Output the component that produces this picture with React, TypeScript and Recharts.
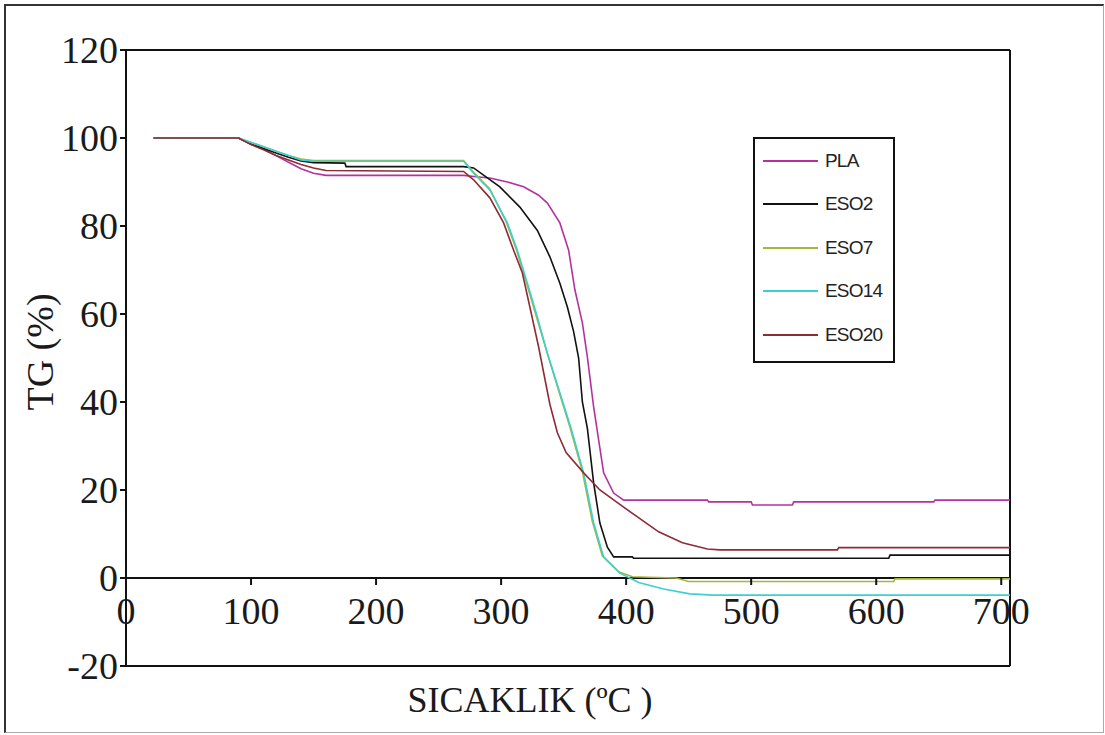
import { Legend, Line, LineChart, ReferenceLine, XAxis, YAxis } from 'recharts'

// TG curves, [temperature °C, TG %]
const PLA: [number, number][] = [
  [22, 100], [90, 100], [100, 98.8], [110, 97.5], [120, 96], [130, 94.5], [140, 93], [150, 92],
  [160, 91.5], [270, 91.5], [280, 91.2], [291, 90.9], [305, 90], [318, 88.9], [330, 87],
  [337, 85.2], [347, 80.7], [354, 74.5], [359, 65.5], [365, 58], [369, 50.2], [374, 38.9],
  [382, 23.9], [390, 19.3], [398, 17.7], [465, 17.7], [466, 17.3], [500, 17.3], [501, 16.6],
  [533, 16.6], [534, 17.3], [646, 17.3], [647, 17.7], [707, 17.7],
]
const ESO2: [number, number][] = [
  [22, 100], [90, 100], [100, 98.6], [110, 97.6], [120, 96.6], [130, 95.6], [140, 94.8], [150, 94.4],
  [175, 94.3], [176, 93.5], [270, 93.5], [278, 93.2], [299, 88.9], [315, 84.3], [329, 79],
  [339, 73], [347, 67], [353, 61.6], [358, 56], [362, 50], [365, 40], [369, 34], [374, 21.6],
  [379, 12.5], [385, 7], [390, 4.8], [405, 4.8], [406, 4.5], [610, 4.5], [611, 5.2], [707, 5.2],
]
const ESO7: [number, number][] = [
  [22, 100], [90, 100], [100, 99], [110, 98], [120, 97], [130, 96], [140, 95.2], [150, 94.9],
  [270, 94.9], [278, 92.2], [291, 88.4], [304, 81], [312, 74.8], [320, 67.3], [328, 59.6],
  [336, 52], [345, 43.5], [355, 34.3], [365, 24.2], [373, 12.8], [381, 5], [394, 1.4], [405, 0.3],
  [440, 0], [450, -0.8], [614, -0.8], [615, -0.2], [707, -0.2],
]
const ESO14: [number, number][] = [
  [22, 100], [90, 100], [100, 99], [110, 98], [120, 97], [130, 96], [140, 95], [150, 94.7],
  [270, 94.7], [278, 92], [291, 88.2], [305, 80.7], [313, 74.5], [321, 67], [329, 59.3],
  [337, 51], [346, 43], [356, 34], [366, 23.9], [374, 12.5], [382, 4.8], [395, 1.1], [410, -1],
  [430, -2.5], [451, -3.6], [470, -3.9], [707, -3.9],
]
const ESO20: [number, number][] = [
  [22, 100], [90, 100], [100, 98.5], [110, 97.3], [120, 96], [130, 95], [140, 94], [150, 93.2],
  [160, 92.6], [270, 92.4], [278, 90.5], [291, 86.4], [302, 80.7], [310, 74.5], [317, 69.3],
  [323, 61.6], [330, 52.5], [339, 39.5], [345, 33], [352, 28.5], [366, 23.9], [379, 20], [398, 16.1],
  [426, 10.5], [445, 8], [465, 6.6], [475, 6.4], [569, 6.4], [570, 6.9], [707, 6.9],
]

const SERIES = [
  { name: 'PLA', color: '#b4329f', points: PLA },
  { name: 'ESO2', color: '#111111', points: ESO2 },
  { name: 'ESO7', color: '#a6b63c', points: ESO7 },
  { name: 'ESO14', color: '#3ccfd2', points: ESO14 },
  { name: 'ESO20', color: '#8e2b35', points: ESO20 },
]

const TEMP_TICKS = [0, 100, 200, 300, 400, 500, 600, 700]
const TG_TICKS = [-20, 0, 20, 40, 60, 80, 100, 120]
const TEMP_MAX = 707
const TG_MIN = -20
const TG_MAX = 120

const W = 1105
const H = 735
const MARGIN = { top: 50, right: 95, bottom: 0, left: 0 }
const Y_AXIS_W = 126
const X_AXIS_H = 69
const PLOT_H = H - MARGIN.top - X_AXIS_H
const SERIF = '"Liberation Serif", "Times New Roman", serif'

// x labels sit under the zero line, not under the frame
function TempTick(props: any) {
  const { x, y, payload } = props
  const y0 = y - (PLOT_H * (0 - TG_MIN)) / (TG_MAX - TG_MIN)
  return (
    <g>
      <line x1={x} x2={x} y1={y0} y2={y0 + 7} stroke="#111" strokeWidth={2} />
      <text x={x} y={y0 + 46} textAnchor="middle" fontSize={38} fontFamily={SERIF} fill="#1a1a1a">
        {payload.value}
      </text>
    </g>
  )
}

function LegendBox() {
  return (
    <div
      style={{
        width: 142,
        height: 226,
        boxSizing: 'border-box',
        border: '2px solid #111',
        background: '#fff',
      }}
    >
      {SERIES.map((s) => (
        <div key={s.name} style={{ height: 43.5, display: 'flex', alignItems: 'center' }}>
          <div style={{ width: 55, height: 2, marginLeft: 8, background: s.color }} />
          <span
            style={{
              marginLeft: 7,
              fontFamily: '"Liberation Sans", Arial, sans-serif',
              fontSize: 19,
              letterSpacing: -0.8,
              color: '#222',
            }}
          >
            {s.name}
          </span>
        </div>
      ))}
    </div>
  )
}

export default function App() {
  return (
    <div style={{ position: 'absolute', left: 0, top: 0, width: W, height: H, background: '#fff' }}>
      <LineChart width={W} height={H} margin={MARGIN}>
        <XAxis
          type="number"
          dataKey="t"
          domain={[0, TEMP_MAX]}
          ticks={TEMP_TICKS}
          interval={0}
          allowDuplicatedCategory={false}
          height={X_AXIS_H}
          tickSize={0}
          tickMargin={0}
          tickLine={false}
          axisLine={{ stroke: '#111', strokeWidth: 2 }}
          tick={<TempTick />}
          label={{
            content: ({ viewBox }: any) => (
              <text
                x={viewBox.x + viewBox.width / 2 - 38}
                y={viewBox.y + 34}
                textAnchor="middle"
                dominantBaseline="central"
                fontSize={36}
                fontFamily={SERIF}
                fill="#1a1a1a"
              >
                SICAKLIK (ºC )
              </text>
            ),
          }}
        />
        <YAxis
          type="number"
          domain={[TG_MIN, TG_MAX]}
          ticks={TG_TICKS}
          interval={0}
          width={Y_AXIS_W}
          tickSize={6}
          tickMargin={2}
          tickLine={{ stroke: '#111', strokeWidth: 2 }}
          axisLine={{ stroke: '#111', strokeWidth: 2 }}
          tick={{ fontSize: 38, fontFamily: SERIF, fill: '#1a1a1a' }}
          label={{
            content: ({ viewBox }: any) => {
              const cx = viewBox.x + 40
              const cy = viewBox.y + viewBox.height / 2 - 6
              return (
                <text
                  x={cx}
                  y={cy}
                  transform={`rotate(-90 ${cx} ${cy})`}
                  textAnchor="middle"
                  dominantBaseline="central"
                  fontSize={38}
                  fontFamily={SERIF}
                  fill="#1a1a1a"
                >
                  TG (%)
                </text>
              )
            },
          }}
        />
        {/* plot frame: top and right edges, plus the zero line */}
        <ReferenceLine y={TG_MAX} stroke="#111" strokeWidth={2} />
        <ReferenceLine x={TEMP_MAX} stroke="#111" strokeWidth={2} />
        <ReferenceLine y={0} stroke="#111" strokeWidth={2} />
        {SERIES.map((s) => (
          <Line
            key={s.name}
            name={s.name}
            data={s.points.map(([t, v]) => ({ t, v }))}
            dataKey="v"
            type="linear"
            stroke={s.color}
            strokeWidth={1.6}
            dot={false}
            activeDot={false}
            isAnimationActive={false}
          />
        ))}
        <Legend
          layout="vertical"
          align="center"
          verticalAlign="middle"
          wrapperStyle={{ left: 753, top: 137, width: 142 }}
          content={() => <LegendBox />}
        />
      </LineChart>
      <div
        style={{
          position: 'absolute',
          left: 4,
          top: 4,
          width: 1100,
          height: 729,
          boxSizing: 'border-box',
          borderTop: '2px solid #333',
          borderLeft: '2px solid #333',
          borderRight: '1px solid #aaa',
          borderBottom: '1px solid #aaa',
          pointerEvents: 'none',
        }}
      />
    </div>
  )
}
